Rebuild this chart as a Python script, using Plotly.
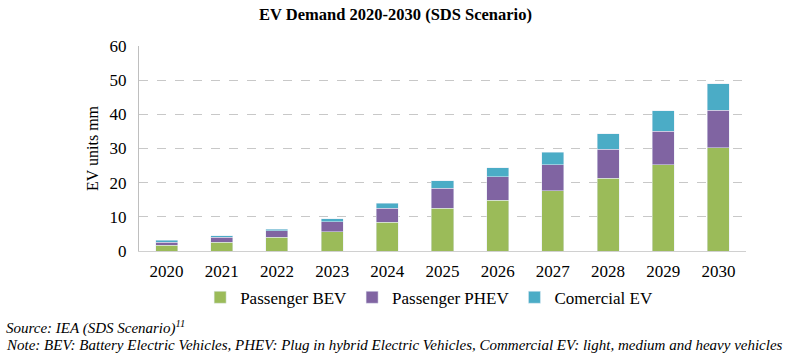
import plotly.graph_objects as go

years = ["2020", "2021", "2022", "2023", "2024", "2025", "2026", "2027", "2028", "2029", "2030"]
bev = [1.7, 2.6, 4.0, 5.7, 8.4, 12.5, 14.9, 17.6, 21.3, 25.3, 30.2]
phev = [0.9, 1.4, 1.9, 2.8, 4.1, 5.9, 6.9, 7.7, 8.5, 9.7, 11.0]
comm = [0.5, 0.5, 0.5, 1.0, 1.5, 2.2, 2.5, 3.6, 4.5, 6.0, 7.8]
y_ticks = [0, 10, 20, 30, 40, 50, 60]

serif = "Liberation Serif, Times New Roman, serif"

fig = go.Figure()
fig.add_bar(x=years, y=bev, name="Passenger BEV", marker_color="#9BBB59")
fig.add_bar(x=years, y=phev, name="Passenger PHEV", marker_color="#8064A2")
fig.add_bar(x=years, y=comm, name="Comercial EV", marker_color="#4BACC6")

fig.update_layout(
    barmode="stack",
    bargap=0.6,
    width=791, height=354,
    margin=dict(l=139, r=45, t=46, b=103),
    paper_bgcolor="white", plot_bgcolor="white",
    font=dict(family=serif, size=17, color="black"),
    title=dict(text="<b>EV Demand 2020-2030 (SDS Scenario)</b>", x=0.5, xanchor="center",
               y=0.96, yanchor="middle", font=dict(size=16.5, family=serif)),
    legend=dict(orientation="h", x=0.478, xanchor="center", y=-0.14, yanchor="top",
                font=dict(size=17, family=serif), traceorder="normal",
                itemwidth=30),
    showlegend=True,
)
fig.update_yaxes(range=[0, 60], tickvals=y_ticks, showgrid=True, gridcolor="#C8C8C8",
                 griddash="dash", gridwidth=1, showline=True, linecolor="#BFBFBF",
                 linewidth=1, zeroline=False, ticks="", ticklabelstandoff=8,
                 tickfont=dict(size=17),
                 title=dict(text="EV units mm", font=dict(size=16, family=serif), standoff=6))
fig.update_xaxes(showline=True, linecolor="#D0D0D0", linewidth=1, ticks="", showgrid=False,
                 tickfont=dict(size=17), ticklabelstandoff=5)

fig.add_annotation(text="<i>Source: IEA (SDS Scenario)<sup>11</sup></i>", xref="paper", yref="paper",
                   x=(4 - 139) / 607, xanchor="left", y=-(327 - 251) / 205, yanchor="middle",
                   showarrow=False, font=dict(size=15, family=serif), align="left")
fig.add_annotation(text="<i>Note: BEV: Battery Electric Vehicles, PHEV: Plug in hybrid Electric Vehicles, Commercial EV: light, medium and heavy vehicles</i>",
                   xref="paper", yref="paper",
                   x=(4 - 139) / 607, xanchor="left", y=-(345 - 251) / 205, yanchor="middle",
                   showarrow=False, font=dict(size=15, family=serif), align="left")

fig.write_html("out.html")
